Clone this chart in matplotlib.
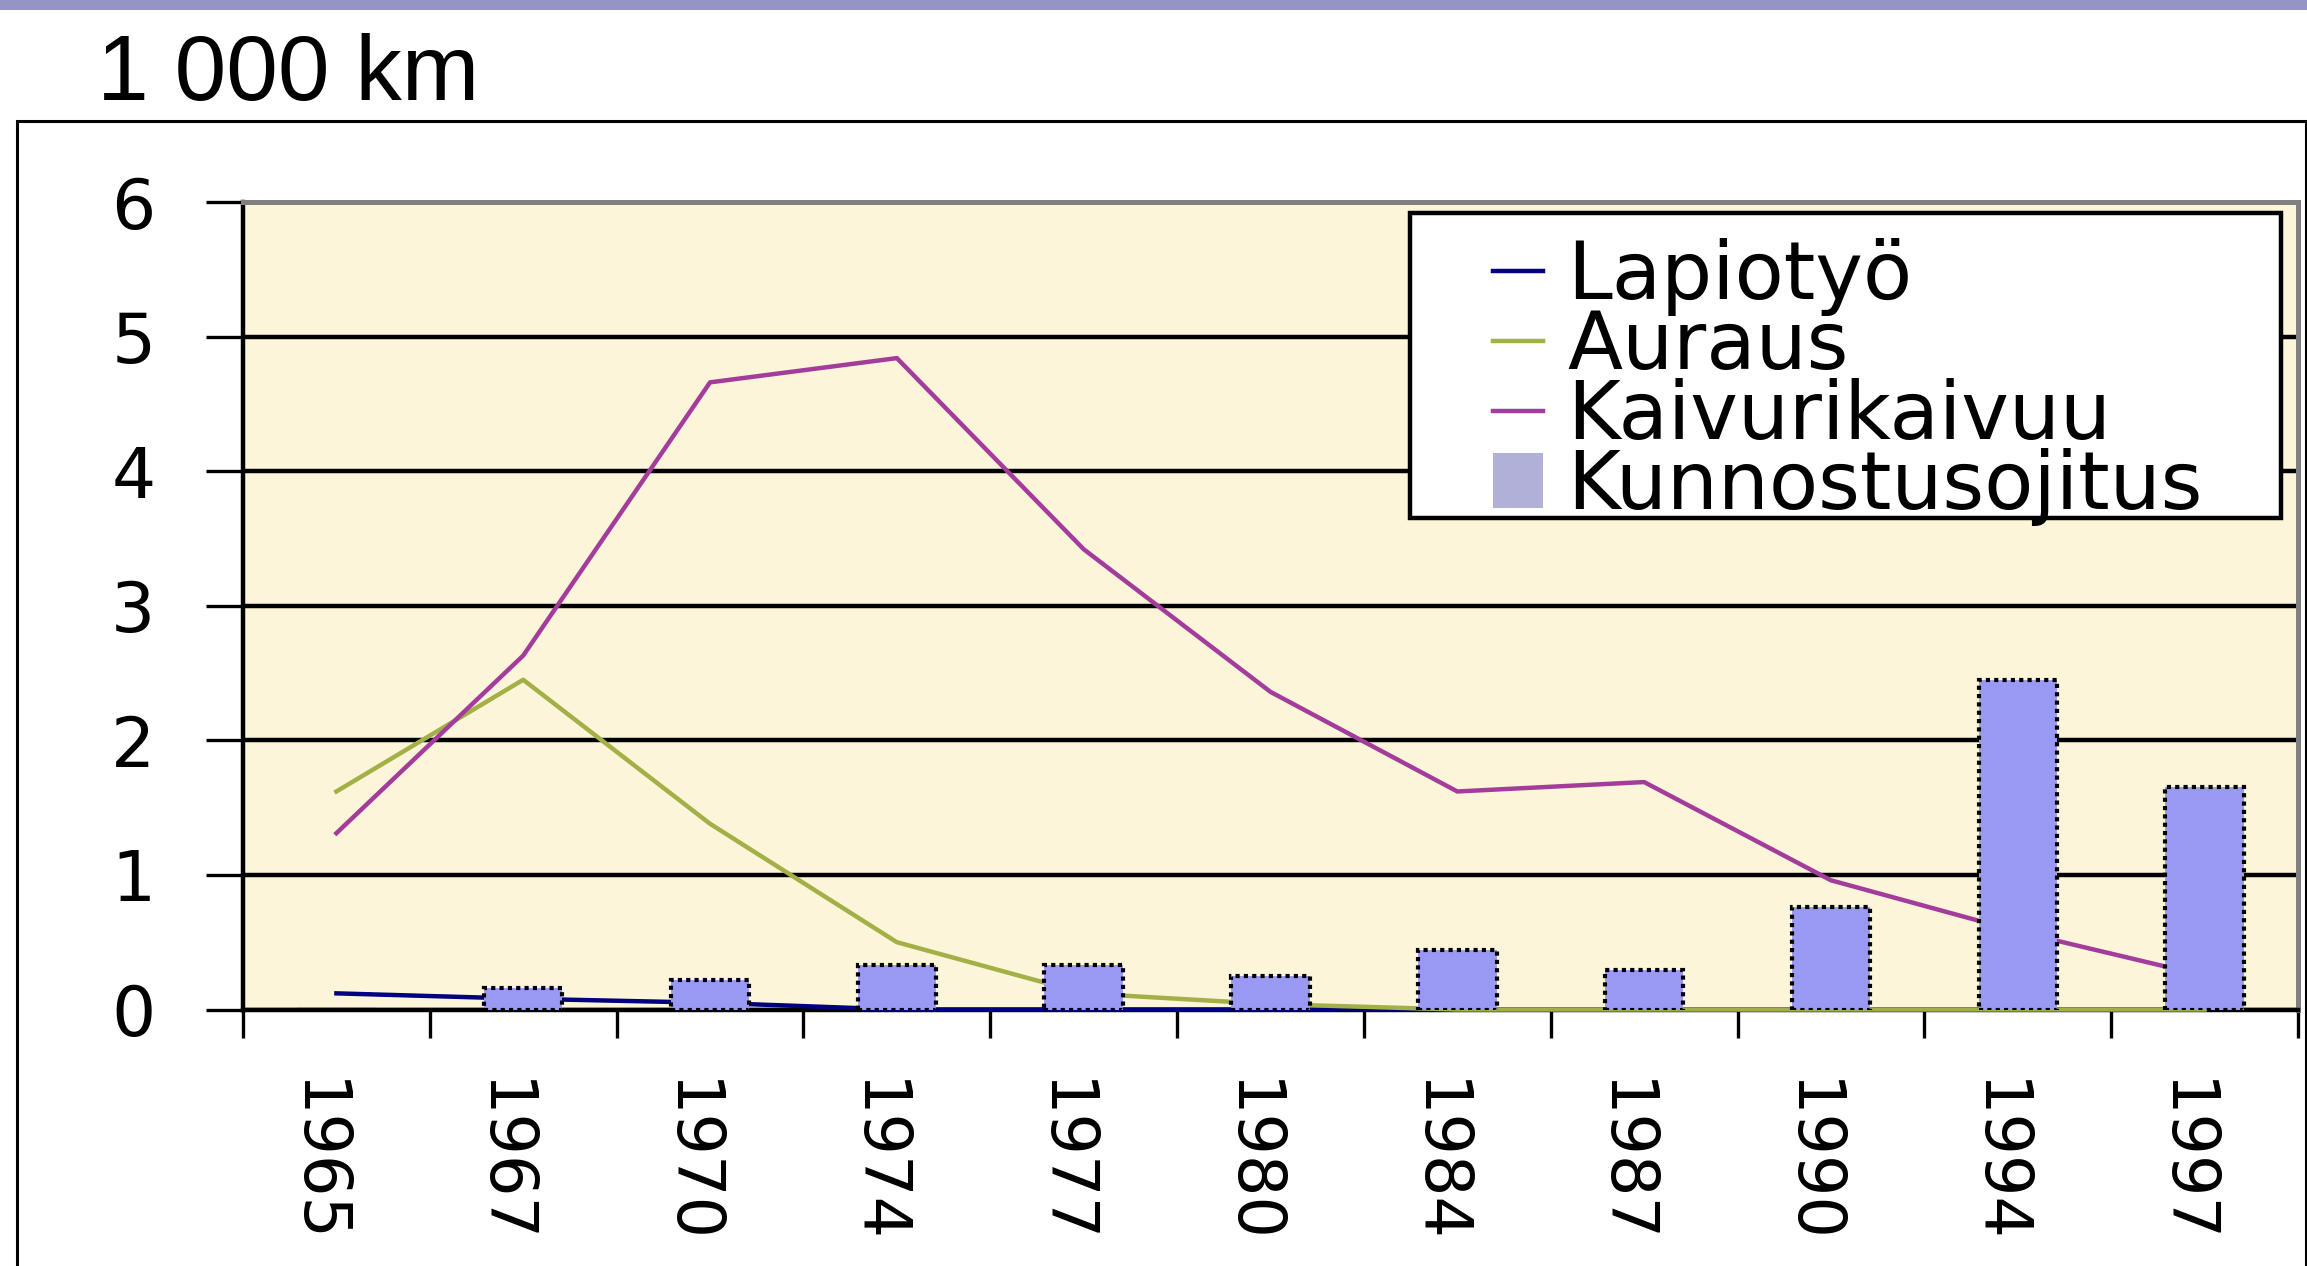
import matplotlib
matplotlib.use("Agg")
import matplotlib.pyplot as plt
from matplotlib import font_manager
from matplotlib.patches import Rectangle
from matplotlib.lines import Line2D
from matplotlib.patches import Patch
from matplotlib.transforms import ScaledTranslation

years = ['1965', '1967', '1970', '1974', '1977', '1980', '1984', '1987', '1990', '1994', '1997']
lapiotyo = [0.12, 0.08, 0.05, 0.0, 0.0, 0.0, 0.0, 0.0, 0.0, 0.0, 0.0]
auraus = [1.62, 2.45, 1.38, 0.50, 0.12, 0.04, 0.0, 0.0, 0.0, 0.0, 0.0]
kaivuri = [1.31, 2.63, 4.66, 4.84, 3.42, 2.36, 1.62, 1.69, 0.96, 0.58, 0.25]
kunnostus = [0.0, 0.16, 0.22, 0.33, 0.33, 0.25, 0.44, 0.29, 0.76, 2.45, 1.65]
series_names = ['Lapiotyö', 'Auraus', 'Kaivurikaivuu', 'Kunnostusojitus']

W, H = 2307, 1266
installed = {f.name for f in font_manager.fontManager.ttflist}
if 'Liberation Sans Narrow' in installed:
    tick_font, xt_size, yt_size = 'Liberation Sans Narrow', 60, 58
else:
    tick_font, xt_size, yt_size = 'DejaVu Sans', 47, 50

fig = plt.figure(figsize=(W / 100, H / 100), dpi=100)
fig.patch.set_facecolor('white')

# top band and chart frame
fig.patches.append(Rectangle((0, 1 - 10 / H), 1, 10 / H, transform=fig.transFigure,
                             facecolor='#9595c5', edgecolor='none'))
fig.patches.append(Rectangle((17 / W, -0.05), (2306 - 17) / W, 0.05 + (H - 121) / H,
                             transform=fig.transFigure, facecolor='none',
                             edgecolor='black', lw=2.2))

fig.text(97 / W, (H - 100) / H, '1 000 km', fontsize=67, family='Liberation Sans',
         va='baseline', ha='left')

left, right, top, bottom = 243, 2298, 202, 1009.5
ax = fig.add_axes([left / W, (H - bottom) / H, (right - left) / W, (bottom - top) / H])
ax.set_facecolor('#fdf5da')

x = list(range(len(years)))
ax.plot(x, lapiotyo, color='#000080', lw=3.2, zorder=2.7, clip_on=False)
ax.plot(x, auraus, color='#a2b046', lw=3.2, zorder=2.7, clip_on=False)
ax.plot(x, kaivuri, color='#a43c9c', lw=3.2, zorder=2.7, clip_on=False)
ax.bar(x, kunnostus, width=0.42, color='#9a9af5', edgecolor='black',
       linestyle=(0, (1, 1)), lw=3.0, zorder=3)

ax.set_xlim(-0.5, len(years) - 0.5)
ax.set_ylim(0, 6)

ax.set_yticks(range(7))
ax.set_yticklabels([str(v) for v in range(7)], fontsize=yt_size, family=tick_font)
ax.tick_params(axis='y', length=27, width=2.4, pad=36, direction='out')

ax.set_xticks([i - 0.5 for i in range(len(years) + 1)])
ax.set_xticklabels([])
ax.set_xticks(x, minor=True)
ax.set_xticklabels(years, minor=True, rotation=-90, fontsize=xt_size, family=tick_font,
                   rotation_mode='anchor', ha='left', va='center_baseline')
ax.tick_params(axis='x', which='major', length=20, width=2.4, direction='out')
ax.tick_params(axis='x', which='minor', length=0, pad=50)
# year labels sit a little left of the category centres in the original
shift = ScaledTranslation(-0.15, 0, fig.dpi_scale_trans)
for t in ax.xaxis.get_minor_ticks():
    t.label1.set_transform(t.label1.get_transform() + shift)

ax.yaxis.grid(True, color='black', lw=3.2)
ax.set_axisbelow(True)
for s in ['left', 'bottom']:
    ax.spines[s].set_color('black')
    ax.spines[s].set_linewidth(3.2)
for s in ['top', 'right']:
    ax.spines[s].set_color('#808080')
    ax.spines[s].set_linewidth(3.6)

# legend box
fig.patches.append(Rectangle((1410 / W, (H - 518) / H), (2281 - 1410) / W, (518 - 213) / H,
                             transform=fig.transFigure, facecolor='white',
                             edgecolor='black', lw=3.2, zorder=5))
handles = [Line2D([], [], color='#000080', lw=3.2),
           Line2D([], [], color='#a2b046', lw=3.2),
           Line2D([], [], color='#a43c9c', lw=3.2),
           Patch(facecolor='#b0b0d8', edgecolor='none')]
leg = fig.legend(handles, series_names, loc='upper left',
                 bbox_to_anchor=(1493 / W, (H - 238) / H), bbox_transform=fig.transFigure,
                 frameon=False, borderpad=0, borderaxespad=0,
                 handlelength=0.62, handleheight=0.66, handletextpad=0.3,
                 labelspacing=-0.1, prop={'family': 'DejaVu Sans', 'size': 58})
leg.set_zorder(6)

fig.savefig('out.png', dpi=100)
